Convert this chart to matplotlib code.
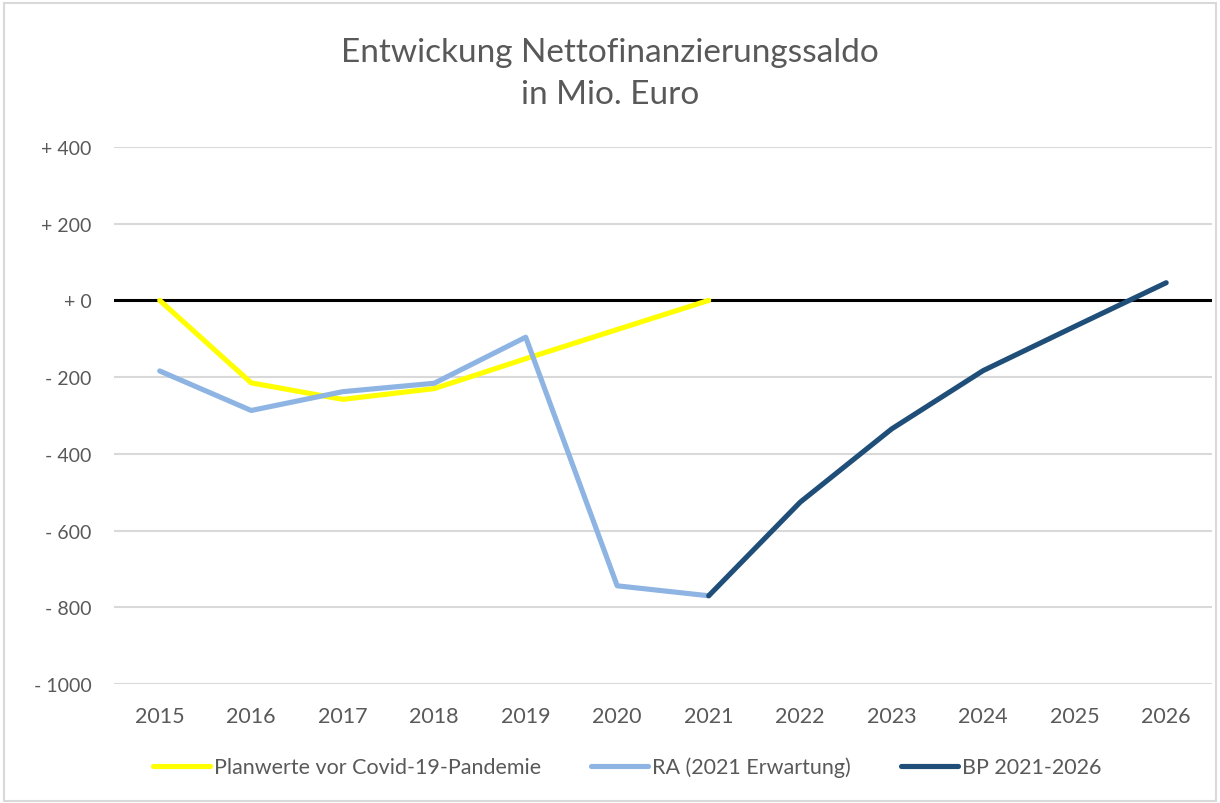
import numpy as np
import matplotlib.pyplot as plt
from matplotlib.patches import Rectangle

plt.rcParams['font.family'] = ['Lato', 'DejaVu Sans']

years = np.arange(2015, 2027)
year_labels = [str(y) for y in years]

# Planwerte vor Covid-19-Pandemie (2015-2021)
plan_years = np.arange(2015, 2022)
plan_values = [0, -215, -258, -230, -152, -76, 0]

# RA (2021 Erwartung) (2015-2021)
ra_years = np.arange(2015, 2022)
ra_values = [-184, -287, -238, -216, -96, -744, -770]

# BP 2021-2026
bp_years = np.arange(2021, 2027)
bp_values = [-770, -526, -335, -183, -68, 46]

y_ticks = [400, 200, 0, -200, -400, -600, -800, -1000]
y_tick_labels = ['+ 400', '+ 200', '+ 0', '- 200', '- 400', '- 600', '- 800', '- 1000']

text_color = '#595959'
grid_color = '#d9d9d9'


def main():
    fig = plt.figure(figsize=(12.2, 8.04), dpi=100)
    ax = fig.add_axes([0.0934, 0.148, 0.9, 0.668])

    for yt in y_ticks:
        if yt == 0:
            continue
        ax.axhline(yt, color=grid_color, lw=1.5, zorder=1)
    ax.axhline(0, color='black', lw=2.2, zorder=2)

    ax.plot(plan_years, plan_values, color='#FFFF00', lw=3.7,
            label='Planwerte vor Covid-19-Pandemie', zorder=3, solid_capstyle='round')
    ax.plot(ra_years, ra_values, color='#8DB4E2', lw=3.7,
            label='RA (2021 Erwartung)', zorder=4, solid_capstyle='round')
    ax.plot(bp_years, bp_values, color='#1F4E79', lw=3.7,
            label='BP 2021-2026', zorder=5, solid_capstyle='round')

    ax.set_xlim(2014.5, 2026.5)
    ax.set_ylim(-1000, 400)
    ax.set_xticks(years)
    ax.set_xticklabels(year_labels)
    ax.set_yticks(y_ticks)
    ax.set_yticklabels(y_tick_labels)
    ax.tick_params(axis='both', length=0, labelcolor=text_color)
    ax.tick_params(axis='x', pad=16, labelsize=15.5)
    ax.tick_params(axis='y', pad=16, labelsize=14)
    for s in ax.spines.values():
        s.set_visible(False)

    fig.text(0.5, 0.908, 'Entwickung Nettofinanzierungssaldo\nin Mio. Euro',
             ha='center', va='center', fontsize=24, color=text_color, linespacing=1.5)

    leg = fig.legend(loc='center', bbox_to_anchor=(0.514, 0.045), ncol=3,
                     frameon=False, fontsize=15.5, handlelength=2.65,
                     handletextpad=0.2, columnspacing=2.3)
    for t in leg.get_texts():
        t.set_color(text_color)

    fig.patches.append(Rectangle((0.003, 0.003), 0.994, 0.992, transform=fig.transFigure,
                                 fill=False, edgecolor='#d9d9d9', lw=1.5))

    fig.savefig('out.png', dpi=100)


if __name__ == "__main__":
    main()
